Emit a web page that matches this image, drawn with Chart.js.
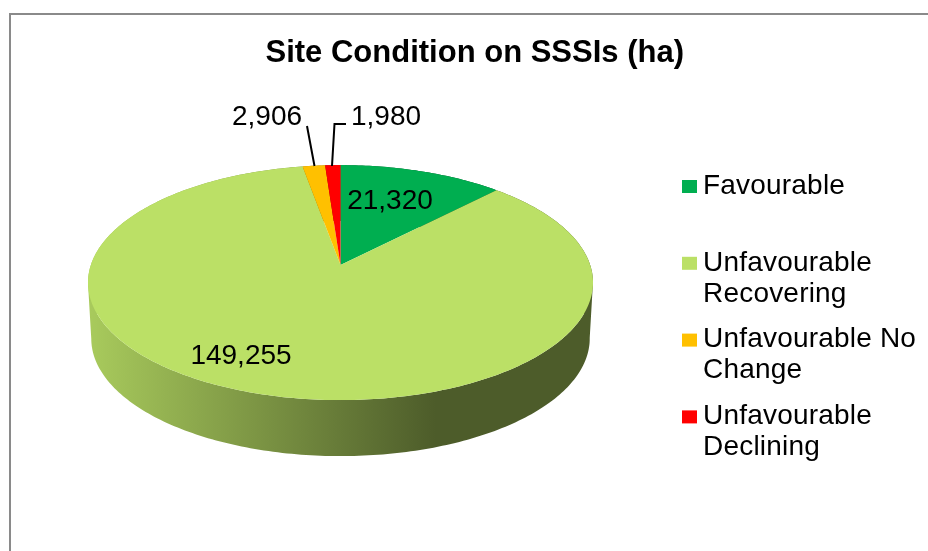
<!DOCTYPE html>
<html>
<head>
<meta charset="utf-8">
<title>Site Condition on SSSIs (ha)</title>
<script src="https://cdn.jsdelivr.net/npm/chart.js@4"></script>
<style>
  html, body { margin: 0; padding: 0; background: #fff; overflow: hidden; }
  #wrap { position: relative; width: 928px; height: 551px; overflow: hidden; }
  #frame { position: absolute; left: 9px; top: 13px; width: 2000px; height: 2000px; border: 2.5px solid #8a8a8a; }
  /* pushed 3px left so the title can end where the original does with the pie still centred */
  #siteChart { position: absolute; left: -3px; top: 0; }
</style>
</head>
<body>
<div id="wrap">
  <div id="frame"></div>
  <canvas id="siteChart" width="954" height="551"></canvas>
</div>
<script>
// data
const categories = ['Favourable', 'Unfavourable Recovering', 'Unfavourable No Change', 'Unfavourable Declining'];
const hectares = [21320, 149255, 2906, 1980];
const sliceColours = ['#00ae50', '#bbe066', '#ffc000', '#ff0000'];
const chartTitle = 'Site Condition on SSSIs (ha)';

const FONT = '"Liberation Sans", Arial, sans-serif';

// the tilted disc: circle on the table seen in perspective
const RIM_X = 249.7, RIM_Y = 114.9, TILT = 0.149;
const WALL_DROP = 56, WALL_NARROW = 0.987;

function rimPoint(el, angle, drop) {
  // library angles start at -PI/2 (top) and run clockwise
  const u = Math.cos(angle), v = Math.sin(angle);
  const w = 1 - TILT * v;
  const narrow = drop ? WALL_NARROW : 1;
  return { x: el.x + RIM_X * narrow * u / w, y: el.y + RIM_Y * v / w + drop };
}

function sampleRim(el, drop) {
  const pts = [];
  const steps = Math.max(6, Math.ceil((el.endAngle - el.startAngle) * 60));
  for (let i = 0; i <= steps; i++) {
    pts.push(rimPoint(el, el.startAngle + (el.endAngle - el.startAngle) * i / steps, drop));
  }
  return pts;
}

function shade(hex, f) {
  const n = parseInt(hex.slice(1), 16);
  return `rgb(${Math.round((n >> 16) * f)},${Math.round(((n >> 8) & 255) * f)},${Math.round((n & 255) * f)})`;
}

const perspectivePie = {
  id: 'perspectivePie',
  beforeDatasetDraw(chart, args) {
    const ctx = chart.ctx;
    const arcs = args.meta.data;
    ctx.save();
    // side wall first, one path of quads so the sides drop straight from the rim
    arcs.forEach(el => {
      const col = el.options.backgroundColor;
      const g = ctx.createLinearGradient(el.x - RIM_X, 0, el.x + RIM_X, 0);
      g.addColorStop(0, shade(col, 0.9));
      g.addColorStop(0.69, shade(col, 0.41));
      g.addColorStop(1, shade(col, 0.41));
      ctx.fillStyle = g;
      const top = sampleRim(el, 0), low = sampleRim(el, WALL_DROP);
      ctx.beginPath();
      for (let i = 0; i < top.length - 1; i++) {
        // keep every quad wound the same way
        const flip = (top[i + 1].x - top[i].x) < 0;
        const a = flip ? i + 1 : i, b = flip ? i : i + 1;
        ctx.moveTo(top[a].x, top[a].y);
        ctx.lineTo(top[b].x, top[b].y);
        ctx.lineTo(low[b].x, low[b].y);
        ctx.lineTo(low[a].x, low[a].y);
        ctx.closePath();
      }
      ctx.fill();
    });
    // then the top face
    arcs.forEach(el => {
      ctx.fillStyle = el.options.backgroundColor;
      ctx.beginPath();
      ctx.moveTo(el.x, el.y);
      sampleRim(el, 0).forEach(p => ctx.lineTo(p.x, p.y));
      ctx.closePath();
      ctx.fill();
    });
    ctx.restore();
    return false;
  },
  afterDraw(chart) {
    const ctx = chart.ctx;
    ctx.save();
    ctx.translate(3, 0);

    // leader lines for the two thin slices
    ctx.strokeStyle = '#000';
    ctx.lineWidth = 2;
    ctx.beginPath();
    ctx.moveTo(307, 126); ctx.lineTo(314.5, 166);
    ctx.moveTo(346, 124); ctx.lineTo(334.5, 124); ctx.lineTo(332, 166);
    ctx.stroke();

    // value labels
    const labelAt = [[390, 201], [241, 356], [267, 117], [386, 117]];
    ctx.font = '28px ' + FONT;
    ctx.fillStyle = '#000';
    ctx.textAlign = 'center';
    ctx.textBaseline = 'middle';
    hectares.forEach((v, i) => {
      ctx.fillText(v.toLocaleString('en-GB'), labelAt[i][0], labelAt[i][1]);
    });

    // legend, wrapped like the original
    ctx.textAlign = 'left';
    ctx.letterSpacing = '0.2px';
    categories.forEach((name, i) => {
      const y = 186 + i * 76.8;
      ctx.fillStyle = sliceColours[i];
      ctx.fillRect(682, y - 6, 15, 13);
      ctx.fillStyle = '#000';
      let line = '', row = 0;
      name.split(' ').forEach(word => {
        const next = line ? line + ' ' + word : word;
        if (ctx.measureText(next).width > 225 && line) {
          ctx.fillText(line, 703, y + row * 31);
          row++;
          line = word;
        } else {
          line = next;
        }
      });
      ctx.fillText(line, 703, y + row * 31);
    });
    ctx.restore();
  }
};

new Chart(document.getElementById('siteChart'), {
  type: 'pie',
  data: {
    labels: categories,
    datasets: [{
      data: hectares,
      backgroundColor: sliceColours,
      borderWidth: 0
    }]
  },
  options: {
    responsive: false,
    animation: false,
    layout: { padding: { left: 0, right: 267, top: 0, bottom: 93 } },
    plugins: {
      legend: { display: false },
      tooltip: { enabled: false },
      title: {
        display: true,
        text: chartTitle,
        align: 'end',
        color: '#000',
        font: { family: FONT, size: 31, weight: 'bold', lineHeight: 1.2 },
        padding: { top: 35, bottom: 0 }
      }
    }
  },
  plugins: [perspectivePie]
});
</script>
</body>
</html>
